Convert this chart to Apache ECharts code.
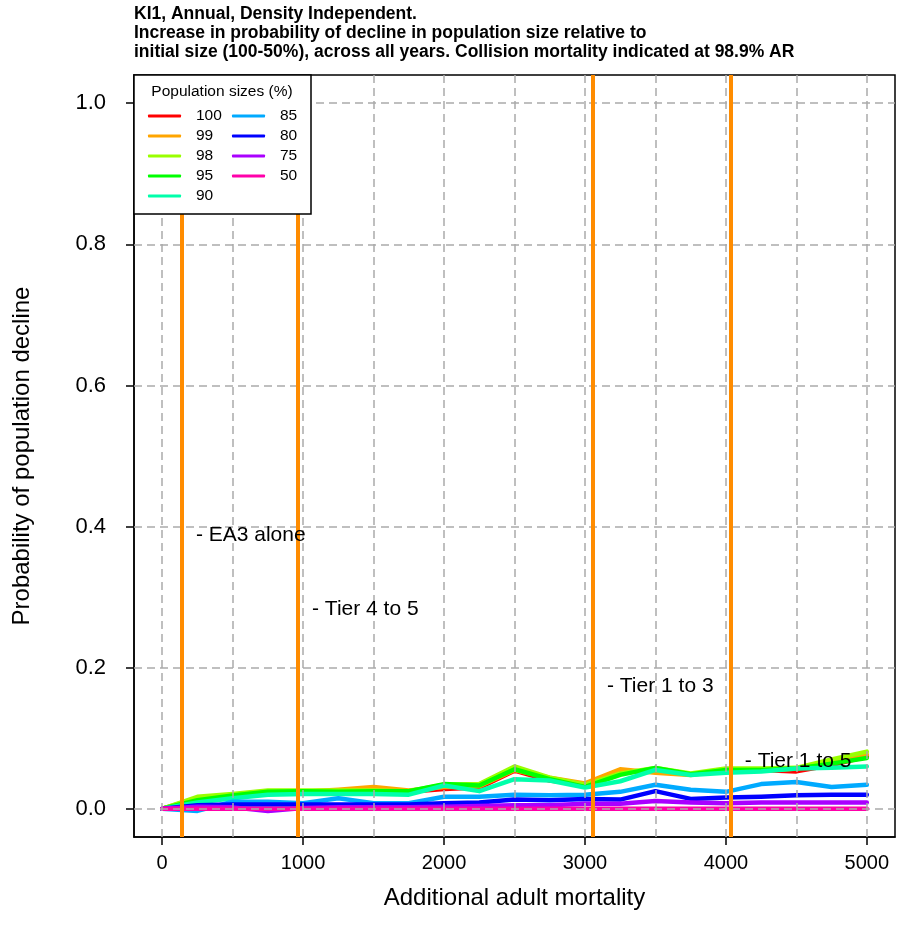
<!DOCTYPE html>
<html><head><meta charset="utf-8">
<script src="https://cdn.jsdelivr.net/npm/echarts@6/dist/echarts.min.js"></script>
<style>html,body{margin:0;padding:0;background:#fff}#c{width:898px;height:941px}</style>
</head><body><div id="c"></div>
<script>
// ---- data ----
const mortality = [0,250,500,750,1000,1250,1500,1750,2000,2250,2500,2750,3000,3250,3500,3750,4000,4250,4500,4750,5000];
const seriesNames = ['100','99','98','95','90','85','80','75','50'];
const s100 = [0,0.013,0.018,0.022,0.022,0.024,0.028,0.024,0.028,0.030,0.054,0.040,0.034,0.052,0.053,0.049,0.055,0.055,0.053,0.062,0.074];
const s99  = [0,0.015,0.019,0.024,0.024,0.027,0.031,0.026,0.031,0.032,0.055,0.044,0.036,0.056,0.051,0.048,0.055,0.054,0.057,0.068,0.077];
const s98  = [0,0.017,0.021,0.026,0.026,0.026,0.026,0.025,0.034,0.035,0.060,0.044,0.034,0.050,0.058,0.050,0.057,0.057,0.058,0.070,0.081];
const s95  = [0,0.012,0.019,0.024,0.025,0.024,0.025,0.025,0.035,0.033,0.056,0.042,0.031,0.048,0.058,0.049,0.055,0.055,0.057,0.064,0.072];
const s90  = [0,0.009,0.015,0.020,0.021,0.021,0.021,0.020,0.033,0.025,0.042,0.040,0.030,0.039,0.055,0.048,0.051,0.053,0.057,0.058,0.060];
const s85  = [0,-0.003,0.010,0.010,0.008,0.015,0.008,0.008,0.017,0.017,0.020,0.019,0.020,0.024,0.034,0.027,0.024,0.035,0.038,0.031,0.034];
const s80  = [0,0.005,0.006,0.006,0.006,0.006,0.006,0.006,0.008,0.009,0.013,0.012,0.014,0.013,0.025,0.014,0.016,0.017,0.019,0.020,0.020];
const s75  = [0,0.003,0.002,-0.003,0.001,0.002,0.002,0.002,0.003,0.004,0.005,0.005,0.007,0.007,0.011,0.009,0.008,0.009,0.009,0.009,0.009];
const s50  = [0,0,0,0,0,0,0,0,0,0,0,0,0,0,0,0,0,0,0,0,0];
const xTicks = [0,1000,2000,3000,4000,5000];
const yTicks = [0,0.2,0.4,0.6,0.8,1.0];
const xGridLines = [0,500,1000,1500,2000,2500,3000,3500,4000,4500,5000];
const markerX = [140,964,3057,4035];
const markerNames = ['- EA3 alone','- Tier 4 to 5','- Tier 1 to 3','- Tier 1 to 5'];
const markerLabelY = [0.388,0.283,0.174,0.067];
const titleLines = ['KI1, Annual, Density Independent.','Increase in probability of decline in population size relative to','initial size (100-50%), across all years. Collision mortality indicated at 98.9% AR'];

const allSeries = [s100,s99,s98,s95,s90,s85,s80,s75,s50];
const colors = ['#FF0000','#FFA500','#99FF00','#00FF00','#00FFAA','#00AAFF','#0000FF','#AA00FF','#FF00AA'];
const FONT = 'Liberation Sans, Arial, sans-serif';

const chart = echarts.init(document.getElementById('c'), null, {renderer:'canvas'});

const lineSeries = allSeries.map((arr,i)=>({
  name: seriesNames[i], type:'line', showSymbol:false, symbol:'none', z:2,
  data: mortality.map((x,j)=>[x,arr[j]]),
  lineStyle:{color:colors[i], width:4.5, cap:'round', join:'round'},
  itemStyle:{color:colors[i]}, silent:true
}));

const legendText = {fontFamily:FONT, fontSize:15.5, lineHeight:20, color:'#000', padding:[0,0,0,10]};

const option = {
  animation:false,
  textStyle:{fontFamily:FONT},
  title:{text:titleLines.join('\n'), left:134, top:5, padding:0,
    textStyle:{fontFamily:FONT, fontSize:17.5, fontWeight:'bold', lineHeight:19, color:'#000'}},
  grid:{left:134, right:3, top:75, bottom:104, show:true, borderColor:'#000', borderWidth:1.5, containLabel:false},
  xAxis:{type:'value', min:-200, max:5200,
    name:'Additional adult mortality', nameLocation:'middle', nameGap:49,
    nameTextStyle:{fontFamily:FONT, fontSize:24, color:'#000'},
    axisLine:{show:true, onZero:false, lineStyle:{color:'#000', width:1.5}},
    axisTick:{show:true, length:8, customValues:xTicks, lineStyle:{color:'#000', width:1.5}},
    axisLabel:{customValues:xTicks, margin:16, fontSize:20, color:'#000', fontFamily:FONT,
      formatter:v=>String(Math.round(v))},
    splitLine:{show:false}},
  yAxis:{type:'value', min:-0.04, max:1.04,
    name:'Probability of population decline', nameLocation:'middle', nameGap:100, nameRotate:90,
    nameTextStyle:{fontFamily:FONT, fontSize:24, color:'#000'},
    axisLine:{show:true, onZero:false, lineStyle:{color:'#000', width:1.5}},
    axisTick:{show:true, length:8, customValues:yTicks, lineStyle:{color:'#000', width:1.5}},
    axisLabel:{customValues:yTicks, margin:28, fontSize:22, color:'#000', fontFamily:FONT,
      formatter:v=>Number(v).toFixed(1)},
    splitLine:{show:false}},
  legend:[
    {data:seriesNames.slice(0,5), orient:'vertical', left:143, top:101, itemWidth:33, itemHeight:3,
     icon:'roundRect', itemGap:0, z:11, selectedMode:false, textStyle:legendText},
    {data:seriesNames.slice(5), orient:'vertical', left:227, top:101, itemWidth:33, itemHeight:3,
     icon:'roundRect', itemGap:0, z:11, selectedMode:false, textStyle:legendText}
  ],
  graphic:[
    {type:'rect', z:10, shape:{x:134, y:75, width:177, height:139},
     style:{fill:'#fff', stroke:'#000', lineWidth:1.5}},
    {type:'text', z:12, x:222, y:92,
     style:{text:'Population sizes (%)', fontFamily:FONT, fontSize:15.5, fill:'#000', align:'center', verticalAlign:'middle'}}
  ],
  series:[
    ...lineSeries,
    {type:'line', name:'grid', data:[], z:3, silent:true,
     markLine:{silent:true, symbol:['none','none'], animation:false, label:{show:false},
       lineStyle:{color:'#aaaaaa', type:[8,5], width:1.5},
       emphasis:{disabled:true},
       data:[...xGridLines.map(v=>({xAxis:v})), ...yTicks.map(v=>({yAxis:v}))]}},
    {type:'line', name:'markers', data:[], z:4, silent:true,
     markLine:{silent:true, symbol:['none','none'], animation:false, label:{show:false},
       lineStyle:{color:'#FF8C00', type:'solid', width:4},
       emphasis:{disabled:true},
       data:markerX.map(v=>({xAxis:v}))}},
    {type:'scatter', name:'labels', z:5, silent:true, symbolSize:0,
     itemStyle:{opacity:1},
     data:markerX.map((x,i)=>({value:[x,markerLabelY[i]], name:markerNames[i]})),
     label:{show:true, position:'right', distance:14, formatter:p=>p.name, opacity:1,
       fontFamily:FONT, fontSize:21, color:'#000', textBorderWidth:0}}
  ]
};
chart.setOption(option);
</script></body></html>
